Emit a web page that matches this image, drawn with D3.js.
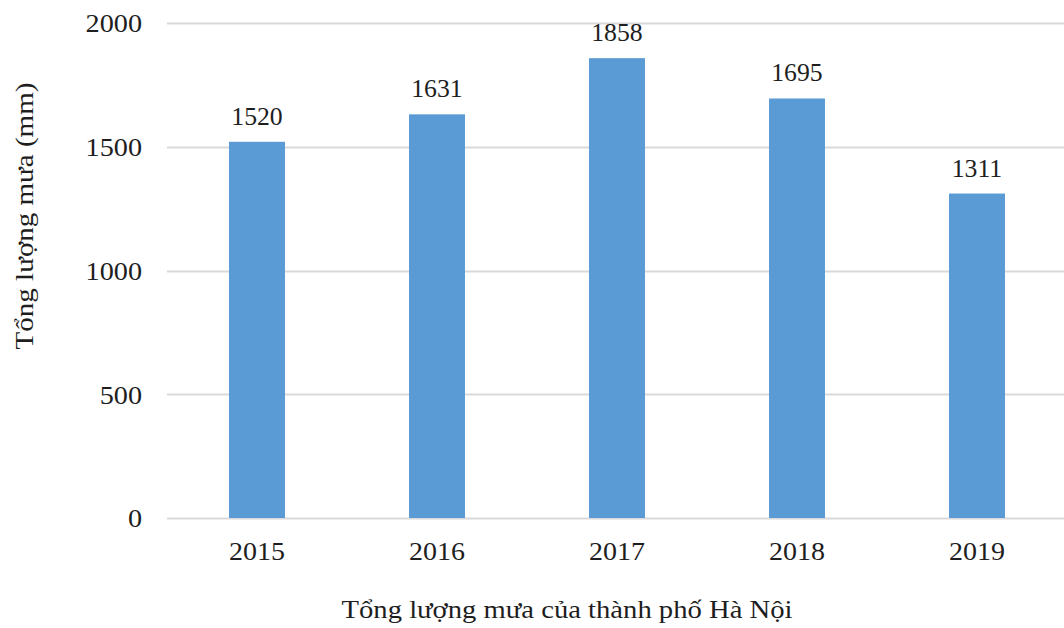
<!DOCTYPE html>
<html><head><meta charset="utf-8">
<script src="https://cdn.jsdelivr.net/npm/d3@7"></script>
<style>
html,body{margin:0;padding:0;background:#fff;}
svg{display:block;}
text{font-family:"Liberation Serif","Times New Roman",serif;fill:#1e1e1e;}
</style></head>
<body>
<svg id="c" width="1064" height="628"></svg>
<script>
const years = ["2015","2016","2017","2018","2019"];
const rainfall = [1520,1631,1858,1695,1311];
const yTicks = [0,500,1000,1500,2000];
const xTitle = "Tổng lượng mưa của thành phố Hà Nội";
const yTitle = "Tổng lượng mưa (mm)";

(function(){
const svg = d3.select("#c");
const mLeft = 167, mRight = 1067, mTop = 23, mBottom = 518;

// horizontally stretch a text element about its anchor point x
function stretch(node, s){
  const x0 = +(node.getAttribute("x")||0);
  const prev = node.getAttribute("transform")||"";
  node.setAttribute("transform", prev+` translate(${x0*(1-s)},0) scale(${s},1)`);
}

const x = d3.scaleBand().domain(years).range([mLeft,mRight]).paddingInner(0.689).paddingOuter(0.3445);
const y = d3.scaleLinear().domain([0,2000]).range([mBottom,mTop]);

// gridlines
svg.append("g").selectAll("line").data(yTicks).join("line")
  .attr("x1",mLeft).attr("x2",1064)
  .attr("y1",d=>Math.round(y(d))+0.5).attr("y2",d=>Math.round(y(d))+0.5)
  .attr("stroke","#d9d9d9").attr("stroke-width",2);

// y axis labels
const yAxis = d3.axisLeft(y).tickValues(yTicks).tickSize(0).tickPadding(0).tickFormat(d3.format("d"));
const gy = svg.append("g").attr("transform",`translate(142,0)`).call(yAxis);
gy.select(".domain").remove();
gy.selectAll("text").attr("font-size",25).attr("font-family","Liberation Serif").attr("fill","#1e1e1e").attr("dy","0.35em")
  .each(function(){ stretch(this, 1.13); });

// x axis labels
const xAxis = d3.axisBottom(x).tickSize(0).tickPadding(0);
const gx = svg.append("g").attr("transform",`translate(0,${mBottom})`).call(xAxis);
gx.select(".domain").remove();
gx.selectAll("text").attr("font-size",25).attr("font-family","Liberation Serif").attr("fill","#1e1e1e").attr("dy","1.68em")
  .each(function(){ stretch(this, 1.12); });

// bars
svg.append("g").selectAll("rect").data(years).join("rect")
  .attr("x",d=>x(d)).attr("width",x.bandwidth())
  .attr("y",(d,i)=>y(rainfall[i])).attr("height",(d,i)=>y(0)-y(rainfall[i]))
  .attr("fill","#5b9bd5");

// value labels
svg.append("g").selectAll("text").data(years).join("text")
  .attr("x",d=>x(d)+x.bandwidth()/2)
  .attr("y",(d,i)=>y(rainfall[i])-17)
  .attr("text-anchor","middle").attr("font-size",25)
  .text((d,i)=>rainfall[i])
  .each(function(){ stretch(this, 1.03); });

// axis titles
const xt = svg.append("text").attr("x",567).attr("y",618).attr("text-anchor","middle").attr("font-size",25).text(xTitle);
stretch(xt.node(), 451/xt.node().getComputedTextLength());
const yt = svg.append("text").attr("x",0).attr("y",0).attr("transform","translate(33,216) rotate(-90)")
  .attr("text-anchor","middle").attr("font-size",25).text(yTitle);
stretch(yt.node(), 267/yt.node().getComputedTextLength());
})();
</script>
</body></html>
